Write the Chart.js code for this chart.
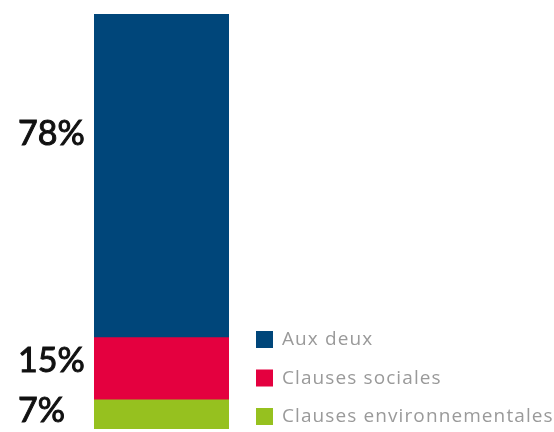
<!DOCTYPE html>
<html>
<head>
<meta charset="utf-8">
<script src="https://cdn.jsdelivr.net/npm/chart.js@4.4.1/dist/chart.umd.min.js"></script>
<style>
  html, body { margin: 0; padding: 0; background: #fff; }
  #wrap { width: 554px; height: 432px; position: relative; }
</style>
</head>
<body>
<div id="wrap"><canvas id="clauses"></canvas></div>
<script>
// share of contracts by type of clause (stacked, bottom to top)
const categories = ['Clauses'];
const seriesNames = ['Clauses environnementales', 'Clauses sociales', 'Aux deux'];
const seriesValues = [7, 15, 78];
const seriesColors = ['#96c11f', '#e4003f', '#00467a'];
const legendOrder = ['Aux deux', 'Clauses sociales', 'Clauses environnementales'];

// percentage labels on the left of each segment + legend on the right
const sideLabels = {
    id: 'sideLabels',
    afterDatasetsDraw(chart) {
        const ctx = chart.ctx;
        const y = chart.scales.y;
        let base = 0;
        ctx.save();
        ctx.textBaseline = 'middle';
        ctx.textAlign = 'left';
        ctx.fillStyle = '#111';
        ctx.strokeStyle = '#111';
        ctx.lineWidth = 1;
        ctx.font = '34px Lato';
        seriesValues.forEach(v => {
            const top = y.getPixelForValue(base + v);
            const bottom = y.getPixelForValue(base);
            const ty = top + (bottom - top) * 0.37;
            ctx.fillText(v + '%', 18, ty);
            ctx.strokeText(v + '%', 18, ty); // a bit heavier than regular
            base += v;
        });

        // legend, stacked under each other next to the bar
        ctx.font = '19px "Open Sans"';
        ctx.letterSpacing = '1.1px';
        const x0 = chart.chartArea.right + 27;
        legendOrder.forEach((name, i) => {
            const idx = seriesNames.indexOf(name);
            const cy = 339 + i * 38.5;
            ctx.fillStyle = seriesColors[idx];
            ctx.fillRect(x0, cy - 8, 17, 17);
            ctx.fillStyle = '#9a9a9a';
            ctx.fillText(name, x0 + 26, cy + 1);
        });
        ctx.restore();
    }
};

new Chart(document.getElementById('clauses'), {
    type: 'bar',
    data: {
        labels: categories,
        datasets: seriesNames.map((name, i) => ({
            label: name,
            data: [seriesValues[i]],
            backgroundColor: seriesColors[i],
            borderWidth: 0,
            barPercentage: 1,
            categoryPercentage: 1
        }))
    },
    options: {
        responsive: true,
        maintainAspectRatio: false,
        animation: false,
        layout: { padding: { left: 94, right: 325, top: 14, bottom: 3 } },
        plugins: {
            legend: { display: false },
            tooltip: { enabled: false }
        },
        scales: {
            x: { stacked: true, display: false },
            y: { stacked: true, display: false, min: 0, max: 100 }
        }
    },
    plugins: [sideLabels]
});
</script>
</body>
</html>
